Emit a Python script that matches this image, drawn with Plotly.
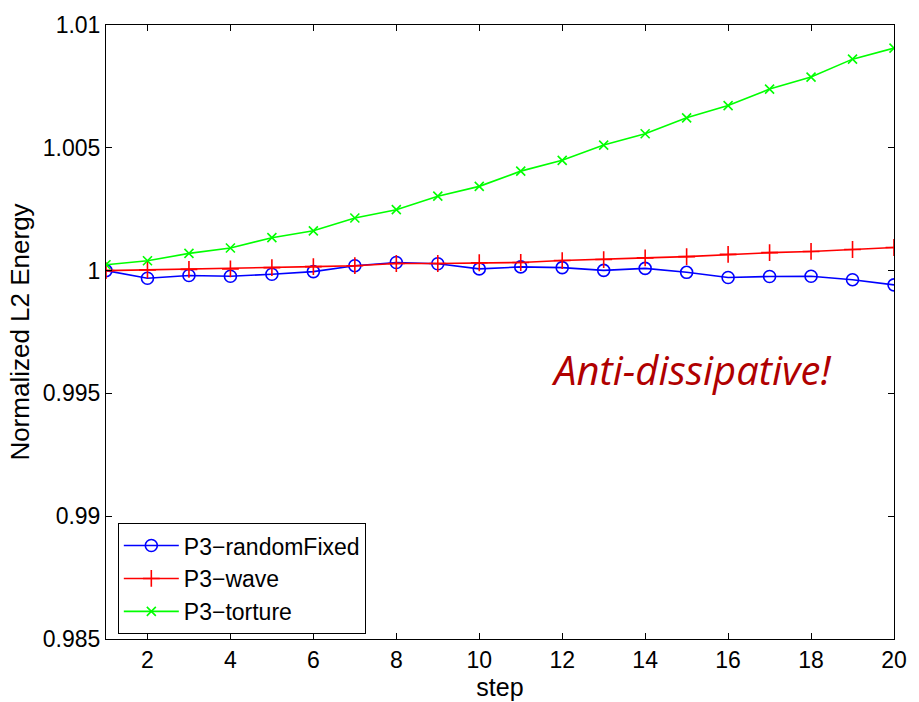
import plotly.graph_objects as go

steps = list(range(1, 21))
random_fixed = [1.00000, 0.99969, 0.99980, 0.99977, 0.99985, 0.99996, 1.00020, 1.00033, 1.00028, 1.00007,
                1.00015, 1.00012, 1.00001, 1.00009, 0.99993, 0.99972, 0.99976, 0.99977, 0.99963, 0.99942]
wave = [1.00000, 1.00003, 1.00005, 1.00007, 1.00012, 1.00016, 1.00020, 1.00029, 1.00029, 1.00032,
        1.00033, 1.00041, 1.00045, 1.00052, 1.00057, 1.00066, 1.00073, 1.00078, 1.00086, 1.00094]
torture = [1.00024, 1.00040, 1.00070, 1.00092, 1.00134, 1.00162, 1.00214, 1.00248, 1.00303, 1.00343,
           1.00405, 1.00449, 1.00511, 1.00557, 1.00622, 1.00672, 1.00739, 1.00788, 1.00861, 1.00906]

x_ticks = [2, 4, 6, 8, 10, 12, 14, 16, 18, 20]
y_ticks = [0.985, 0.99, 0.995, 1.0, 1.005, 1.01]
y_ticktext = ["0.985", "0.99", "0.995", "1", "1.005", "1.01"]

font_family = "Liberation Sans, Arial, sans-serif"

fig = go.Figure()
fig.add_trace(go.Scatter(x=steps, y=random_fixed, mode="lines+markers", name="P3\u2212randomFixed",
                         line=dict(color="#0000ff", width=1.6),
                         marker=dict(symbol="circle-open", size=12, color="#0000ff", line=dict(width=1.6))))
fig.add_trace(go.Scatter(x=steps, y=wave, mode="lines+markers", name="P3\u2212wave",
                         line=dict(color="#ff0000", width=1.6),
                         marker=dict(symbol="cross-thin-open", size=12, color="#ff0000", line=dict(width=1.6, color="#ff0000"))))
fig.add_trace(go.Scatter(x=steps, y=torture, mode="lines+markers", name="P3\u2212torture",
                         line=dict(color="#00ff00", width=1.6),
                         marker=dict(symbol="x-thin-open", size=9, color="#00ff00", line=dict(width=1.6, color="#00ff00"))))

fig.add_annotation(x=0.7425, y=0.99598, xref="paper", yref="y", xanchor="center", yanchor="middle",
                   text="<i>Anti-dissipative!</i>",
                   showarrow=False, font=dict(family="Open Sans, Lato, sans-serif", size=40, color="#b00000"))

fig.update_layout(
    width=919, height=702,
    margin=dict(l=106, r=13, t=18, b=56),
    paper_bgcolor="white", plot_bgcolor="white",
    font=dict(family=font_family, size=23, color="black"),
    showlegend=True,
    legend=dict(x=0.015, y=0.008, xanchor="left", yanchor="bottom",
                bordercolor="black", borderwidth=1, bgcolor="white",
                font=dict(family=font_family, size=23), itemwidth=55, tracegroupgap=0),
    xaxis=dict(range=[1, 20], tickvals=x_ticks, ticks="inside", ticklen=6, tickcolor="black",
               showline=True, linecolor="black", linewidth=1, mirror="ticks", showgrid=False, zeroline=False,
               title=dict(text="step", font=dict(size=25), standoff=0), tickfont=dict(size=23)),
    yaxis=dict(range=[0.985, 1.01], tickvals=y_ticks, ticktext=y_ticktext, ticks="inside", ticklen=6,
               tickcolor="black", showline=True, linecolor="black", linewidth=1, mirror="ticks",
               showgrid=False, zeroline=False,
               title=dict(text="Normalized L2 Energy", font=dict(size=26), standoff=5), tickfont=dict(size=23)),
)

fig.write_html("out.html")
